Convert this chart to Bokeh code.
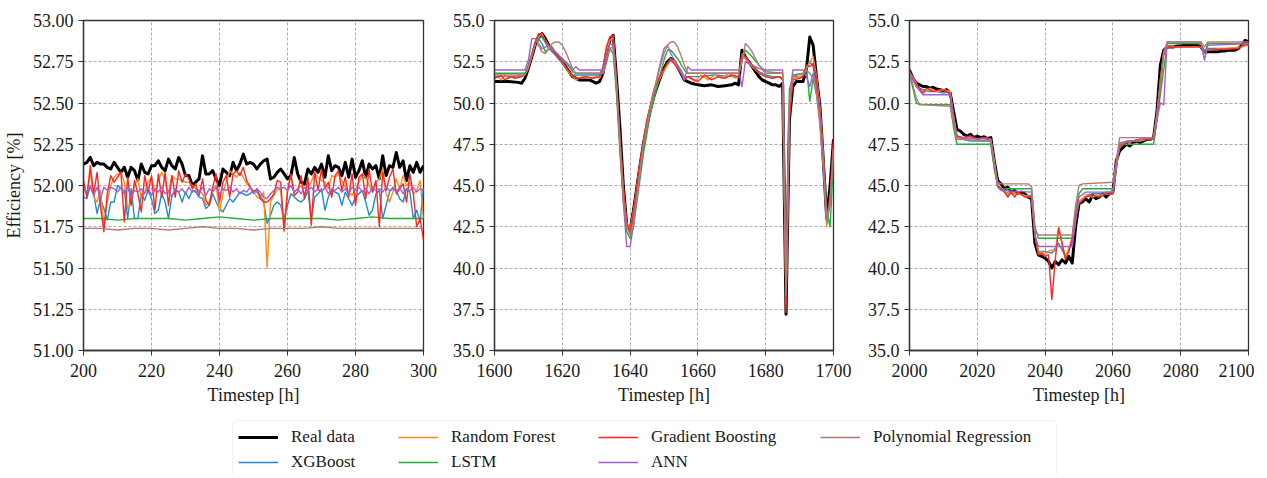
from bokeh.plotting import figure
from bokeh.models import Range1d, Legend, LegendItem, BoxAnnotation, FixedTicker, NumeralTickFormatter
from bokeh.layouts import row, column
from bokeh.embed import file_html
from bokeh.resources import INLINE

FONT = "Liberation Serif"
NAMES = ["Real data", "XGBoost", "Random Forest", "LSTM", "Gradient Boosting", "ANN", "Polynomial Regression"]
COLORS = ["#000000", "#1f8ccc", "#ff8c1a", "#1fb03a", "#ff2424", "#a35fd0", "#b57a6e"]
WIDTHS = [3.0, 1.4, 1.4, 1.4, 1.4, 1.4, 1.4]

# ---------------- Panel 1 : timesteps 200-300 ----------------
T1 = list(range(200, 301))
REAL1 = [52.13, 52.14, 52.17, 52.12, 52.14, 52.13, 52.13, 52.11, 52.10, 52.14,
         52.11, 52.08, 52.11, 52.05, 52.11, 52.09, 52.03, 52.13, 52.08, 52.07,
         52.12, 52.12, 52.15, 52.11, 52.09, 52.16, 52.12, 52.10, 52.17, 52.13,
         52.06, 52.06, 52.00, 52.02, 52.04, 52.18, 52.07, 52.07, 52.09, 52.04,
         52.00, 52.10, 52.08, 52.06, 52.14, 52.09, 52.13, 52.19, 52.13, 52.14,
         52.13, 52.10, 52.13, 52.15, 52.16, 52.04, 52.05, 52.08, 52.10, 52.07,
         52.04, 52.06, 52.17, 52.07, 52.02, 52.01, 52.10, 52.07, 52.11, 52.08,
         52.13, 52.05, 52.18, 52.09, 52.12, 52.11, 52.06, 52.14, 52.05, 52.16,
         52.05, 52.09, 52.15, 52.05, 52.13, 52.10, 52.12, 52.04, 52.18, 52.06,
         52.12, 52.11, 52.20, 52.11, 52.15, 52.03, 52.12, 52.08, 52.14, 52.08,
         52.12]
XGB1 = [51.93, 51.92, 52.00, 51.95, 51.83, 51.92, 51.86, 51.79, 51.90, 51.90,
        52.00, 51.98, 51.97, 51.80, 51.98, 51.80, 51.80, 51.95, 51.91, 51.97,
        51.92, 51.83, 51.85, 51.95, 51.90, 51.80, 51.94, 51.97, 51.96, 51.90,
        51.96, 51.92, 51.97, 51.96, 51.93, 51.92, 51.86, 51.88, 51.95, 51.90,
        51.86, 51.84, 51.88, 51.92, 51.90, 51.93, 51.96, 51.95, 51.94, 51.95,
        51.97, 51.96, 51.94, 51.90, 51.77, 51.82, 51.88, 51.90, 51.88, 51.80,
        51.88, 51.95, 51.93, 51.91, 51.90, 51.92, 51.97, 51.80, 51.93, 51.95,
        51.98, 51.85, 51.93, 51.97, 51.96, 51.95, 51.88, 51.96, 51.92, 51.88,
        51.93, 51.95, 51.97, 51.90, 51.82, 51.85, 51.95, 51.97, 51.80, 51.88,
        51.96, 51.99, 51.97, 51.92, 51.90, 51.98, 51.96, 51.80, 51.85, 51.78,
        51.99]
RF1 = [51.98, 51.95, 52.08, 51.93, 51.90, 51.97, 51.76, 51.90, 52.00, 52.05,
       52.07, 52.08, 52.02, 51.86, 51.90, 52.00, 52.04, 51.93, 51.96, 52.02,
       52.05, 51.96, 52.03, 52.08, 52.03, 51.95, 52.06, 52.04, 52.04, 52.03,
       52.02, 52.02, 52.00, 51.98, 51.97, 51.95, 51.88, 51.90, 51.98, 52.00,
       51.84, 51.95, 52.02, 52.09, 52.07, 52.05, 52.08, 52.05, 52.01, 51.99,
       51.97, 51.93, 51.92, 51.96, 51.50, 51.90, 51.94, 51.98, 51.97, 51.72,
       51.98, 52.06, 51.96, 51.98, 52.00, 51.95, 51.99, 52.02, 52.08, 52.05,
       52.03, 52.02, 51.98, 52.06, 52.05, 52.07, 52.03, 51.99, 51.96, 51.94,
       51.98, 52.02, 52.07, 52.05, 52.00, 51.96, 52.02, 52.04, 52.10, 51.95,
       51.90, 51.96, 52.04, 51.98, 52.06, 52.00, 52.02, 51.95, 51.97, 52.03,
       51.80]
GB1 = [52.03, 51.93, 52.12, 51.95, 52.08, 51.87, 51.72, 51.95, 52.06, 52.02,
       52.05, 52.08, 51.78, 52.05, 51.88, 52.03, 51.95, 51.84, 52.06, 51.96,
       52.06, 51.85, 52.07, 51.93, 52.08, 51.88, 52.06, 51.93, 52.09, 52.02,
       52.07, 52.04, 51.98, 52.01, 51.94, 52.04, 51.91, 51.88, 51.99, 52.07,
       51.90, 52.02, 52.06, 51.93, 52.07, 52.09, 52.06, 52.11, 52.03, 51.99,
       51.96, 51.98, 51.92, 51.90, 51.90, 51.92, 51.95, 52.03, 52.02, 51.73,
       51.96, 52.07, 51.94, 51.96, 52.06, 51.92, 52.05, 51.76, 52.08, 51.97,
       52.10, 51.98, 52.02, 51.93, 52.06, 52.09, 51.97, 52.05, 51.93, 52.07,
       51.88, 52.05, 52.07, 51.92, 52.10, 51.96, 52.03, 51.75, 52.08, 51.97,
       52.05, 52.10, 51.95, 51.98, 52.01, 51.90, 52.07, 51.95, 51.75, 51.80,
       51.67]
ANN1 = [51.98, 51.96, 51.99, 51.94, 51.99, 51.92, 51.99, 51.97, 51.99, 51.98,
        51.96, 51.99, 51.95, 51.99, 51.93, 51.97, 51.96, 51.98, 51.95, 51.99,
        51.94, 51.98, 51.96, 51.99, 51.95, 51.97, 51.93, 51.98, 51.96, 51.98,
        51.95, 51.99, 51.96, 51.97, 51.95, 51.99, 51.94, 51.98, 51.96, 51.99,
        51.95, 51.98, 51.97, 51.99, 51.96, 51.98, 51.95, 51.97, 51.96, 51.99,
        51.95, 51.98, 51.96, 51.93, 51.92, 51.95, 51.97, 51.99, 51.98, 51.99,
        51.97, 52.00, 51.96, 51.98, 51.95, 51.99, 51.97, 51.99, 51.96, 51.98,
        51.96, 51.99, 51.95, 51.98, 51.97, 51.99, 51.96, 51.98, 51.95, 51.99,
        51.97, 51.99, 51.96, 51.98, 51.95, 51.99, 51.97, 51.98, 51.96, 51.99,
        51.97, 51.98, 51.96, 51.99, 51.95, 51.98, 51.97, 51.99, 51.96, 51.98,
        51.97]
T1_SMOOTH = list(range(200, 301, 5))
LSTM1 = [51.80, 51.80, 51.79, 51.80, 51.80, 51.80, 51.79, 51.80, 51.81, 51.80, 51.79,
         51.80, 51.80, 51.80, 51.80, 51.79, 51.80, 51.81, 51.80, 51.80, 51.80]
POLY1 = [51.74, 51.74, 51.73, 51.74, 51.74, 51.73, 51.74, 51.75, 51.74, 51.74, 51.73,
         51.74, 51.74, 51.74, 51.75, 51.74, 51.74, 51.74, 51.74, 51.74, 51.74]

# ---------------- Panel 2 : timesteps 1600-1700 ----------------
REAL2_T = [1600, 1604, 1607, 1608, 1609, 1610, 1611, 1612, 1613, 1614, 1615, 1616, 1618, 1620, 1622, 1623,
           1625, 1628, 1630, 1631, 1632, 1633, 1634, 1635, 1636, 1637, 1638, 1639, 1640, 1641, 1642, 1643,
           1644, 1645, 1646, 1647, 1648, 1649, 1650, 1651, 1652, 1653, 1654, 1655, 1656, 1657, 1658, 1660,
           1662, 1664, 1666, 1668, 1670, 1671, 1672, 1673, 1674, 1675, 1676, 1677, 1678, 1679, 1680, 1681,
           1682, 1683, 1684, 1685, 1686, 1687, 1688, 1689, 1690, 1691, 1692, 1693, 1694, 1695, 1696, 1697,
           1698, 1699, 1700]
REAL2_V = [51.3, 51.3, 51.25, 51.2, 51.5, 52.1, 52.8, 53.5, 54.0, 54.2, 53.9, 53.5, 53.0, 52.5, 51.9, 51.6,
           51.4, 51.4, 51.2, 51.3, 51.8, 53.0, 53.8, 54.1, 51.5, 48.5, 45.0, 42.6, 42.3, 43.5, 44.9, 46.3,
           47.6, 48.7, 49.6, 50.4, 51.0, 51.6, 52.1, 52.5, 52.7, 52.5, 52.2, 51.8, 51.4, 51.3, 51.2, 51.1,
           51.05, 51.1, 51.0, 51.05, 51.1, 51.2, 51.1, 53.2, 52.8, 52.5, 52.2, 51.9, 51.6, 51.4, 51.3, 51.2,
           51.1, 51.1, 51.0, 51.2, 37.2, 49.0, 51.0, 51.3, 51.3, 51.3, 52.0, 54.0, 53.5, 51.5, 49.8, 46.5,
           43.0, 45.0, 47.8]
XGB2_T = [1600, 1604, 1608, 1609, 1610, 1611, 1612, 1613, 1614, 1616, 1618, 1620, 1622, 1623, 1626, 1631,
          1632, 1633, 1634, 1635, 1636, 1637, 1638, 1639, 1640, 1641, 1643, 1645, 1647, 1649, 1651, 1652,
          1653, 1655, 1656, 1657, 1660, 1665, 1670, 1672, 1673, 1674, 1676, 1678, 1680, 1682, 1684, 1685,
          1686, 1687, 1688, 1691, 1692, 1693, 1694, 1695, 1696, 1697, 1698, 1699, 1700]
XGB2_V = [51.6, 51.6, 51.6, 51.8, 52.2, 52.9, 53.6, 53.9, 54.0, 53.3, 52.9, 52.4, 51.9, 51.7, 51.7, 51.7,
          52.2, 53.2, 53.8, 53.9, 51.0, 47.5, 44.5, 42.6, 42.1, 43.3, 46.2, 48.8, 50.6, 51.6, 52.4, 52.7,
          52.5, 52.0, 51.6, 51.6, 51.6, 51.7, 51.6, 51.6, 52.9, 52.8, 52.3, 51.9, 51.7, 51.6, 51.6, 51.5,
          38.0, 49.5, 51.6, 51.6, 52.0, 52.5, 52.2, 51.0, 49.5, 46.5, 43.0, 43.8, 47.5]
RF2_T = [1600, 1601, 1602, 1603, 1604, 1605, 1606, 1607, 1608, 1609, 1610, 1611, 1612, 1613, 1614, 1615,
         1616, 1618, 1620, 1622, 1623, 1624, 1626, 1628, 1630, 1631, 1632, 1633, 1634, 1635, 1636, 1637,
         1638, 1639, 1640, 1641, 1643, 1645, 1647, 1649, 1651, 1652, 1653, 1655, 1656, 1657, 1659, 1661,
         1663, 1665, 1667, 1669, 1671, 1672, 1673, 1674, 1676, 1678, 1680, 1682, 1684, 1685, 1686, 1687,
         1688, 1690, 1691, 1692, 1693, 1694, 1695, 1696, 1697, 1698, 1699, 1700]
RF2_V = [51.5, 51.6, 51.4, 51.7, 51.5, 51.6, 51.5, 51.7, 51.6, 51.8, 52.2, 52.9, 53.6, 54.0, 54.2, 53.8,
         53.4, 53.0, 52.5, 51.8, 51.6, 51.4, 51.6, 51.5, 51.6, 51.5, 52.0, 53.2, 53.8, 54.0, 51.2, 47.8,
         44.8, 42.7, 42.4, 43.5, 46.4, 48.9, 50.6, 51.6, 52.3, 52.6, 52.5, 51.9, 51.5, 51.6, 51.3, 51.7,
         51.4, 51.7, 51.5, 51.8, 51.5, 51.6, 52.8, 52.7, 52.2, 51.8, 51.6, 51.5, 51.6, 51.4, 37.8, 49.3,
         51.5, 51.6, 51.7, 52.1, 52.5, 52.8, 51.6, 49.8, 46.8, 42.5, 44.0, 47.2]
GB2_T = [1600, 1602, 1603, 1605, 1606, 1608, 1609, 1610, 1611, 1612, 1613, 1614, 1616, 1618, 1620, 1622,
         1623, 1625, 1627, 1629, 1631, 1632, 1633, 1634, 1635, 1636, 1637, 1638, 1639, 1640, 1641, 1643,
         1645, 1647, 1649, 1651, 1652, 1653, 1655, 1656, 1657, 1658, 1660, 1662, 1664, 1666, 1668, 1670,
         1672, 1673, 1674, 1676, 1678, 1680, 1682, 1684, 1685, 1686, 1687, 1688, 1690, 1691, 1692, 1693,
         1694, 1695, 1696, 1697, 1698, 1699, 1700]
GB2_V = [51.5, 51.7, 51.4, 51.6, 51.5, 51.6, 51.7, 52.1, 52.9, 53.7, 54.2, 54.1, 53.5, 53.0, 52.5, 51.9,
         51.6, 51.5, 51.6, 51.5, 51.6, 52.1, 53.4, 54.0, 54.1, 51.4, 47.9, 44.9, 42.7, 42.2, 43.4, 46.5,
         49.0, 50.8, 51.7, 52.4, 52.6, 52.4, 51.8, 51.4, 51.6, 51.5, 51.3, 51.7, 51.4, 51.6, 51.5, 51.7,
         51.6, 53.0, 52.8, 52.3, 51.8, 51.6, 51.5, 51.6, 51.4, 37.3, 49.1, 51.4, 51.5, 51.6, 52.3, 52.2,
         52.4, 51.5, 49.5, 46.6, 42.8, 44.5, 47.8]
LSTM2_T = [1600, 1609, 1610, 1611, 1612, 1613, 1614, 1615, 1616, 1617, 1618, 1620, 1622, 1623, 1624, 1632,
           1633, 1634, 1635, 1636, 1637, 1638, 1639, 1640, 1641, 1642, 1644, 1646, 1648, 1650, 1651, 1652,
           1654, 1656, 1657, 1672, 1673, 1674, 1676, 1678, 1680, 1685, 1686, 1687, 1688, 1691, 1692, 1693,
           1694, 1695, 1696, 1697, 1698, 1699, 1700]
LSTM2_V = [51.8, 51.8, 52.2, 52.9, 53.6, 53.9, 53.6, 53.1, 53.3, 53.4, 53.0, 52.6, 52.2, 51.9, 51.8, 51.8,
           52.5, 53.3, 53.0, 50.5, 47.0, 44.0, 42.2, 41.8, 42.5, 44.0, 47.0, 49.4, 51.0, 52.6, 53.2, 53.2,
           52.7, 52.0, 51.8, 51.8, 52.6, 53.2, 52.8, 52.3, 51.9, 51.8, 38.2, 50.8, 51.7, 51.8, 52.2, 50.1,
           51.5, 50.5, 49.0, 46.5, 43.5, 42.5, 46.5]
ANN2_T = [1600, 1609, 1610, 1611, 1612, 1613, 1614, 1616, 1618, 1620, 1622, 1623, 1624, 1625, 1632, 1633,
          1634, 1635, 1636, 1637, 1638, 1639, 1640, 1641, 1642, 1644, 1646, 1648, 1649, 1650, 1651, 1652,
          1654, 1656, 1657, 1658, 1672, 1673, 1674, 1676, 1678, 1680, 1685, 1686, 1687, 1688, 1691, 1692,
          1693, 1694, 1695, 1696, 1697, 1698, 1699, 1700]
ANN2_V = [52.0, 52.0, 52.6, 53.9, 53.9, 53.6, 53.3, 53.5, 53.1, 52.7, 52.3, 52.0, 52.2, 52.0, 52.0, 52.8,
          53.6, 53.5, 51.0, 47.5, 44.0, 41.3, 41.3, 42.6, 44.3, 47.6, 49.8, 51.6, 52.5, 53.3, 53.5, 53.0,
          52.3, 51.4, 52.2, 52.0, 52.0, 51.0, 52.5, 52.3, 52.1, 52.0, 52.0, 38.5, 50.2, 52.0, 52.0, 51.6,
          51.0, 51.8, 50.8, 49.2, 46.5, 43.0, 44.0, 47.0]
POLY2_T = [1600, 1609, 1610, 1611, 1612, 1613, 1614, 1615, 1616, 1617, 1618, 1619, 1620, 1621, 1622, 1623,
           1624, 1632, 1633, 1634, 1635, 1636, 1637, 1638, 1639, 1640, 1641, 1642, 1644, 1646, 1648, 1649,
           1650, 1651, 1652, 1653, 1654, 1655, 1656, 1657, 1672, 1673, 1674, 1675, 1676, 1677, 1678, 1679,
           1680, 1685, 1686, 1687, 1688, 1691, 1692, 1693, 1694, 1695, 1696, 1697, 1698, 1699, 1700]
POLY2_V = [51.7, 51.7, 52.1, 52.8, 53.5, 53.5, 53.1, 53.0, 53.3, 53.6, 53.7, 53.7, 53.5, 53.1, 52.6, 52.1,
           51.8, 51.8, 52.4, 53.3, 53.4, 51.0, 47.4, 44.3, 42.5, 42.0, 42.8, 44.3, 47.5, 49.7, 51.5, 52.3,
           53.0, 53.5, 53.7, 53.7, 53.4, 52.9, 52.3, 51.8, 51.8, 52.5, 53.6, 53.4, 53.1, 52.7, 52.3, 52.0,
           51.8, 51.8, 38.3, 50.0, 51.6, 51.8, 52.0, 51.8, 51.5, 50.5, 48.6, 46.0, 42.7, 44.0, 47.2]

# ---------------- Panel 3 : timesteps 2000-2100 ----------------
REAL3_T = list(range(2000, 2101))
REAL3_V = [52.0, 51.5, 51.2, 51.1, 51.0, 51.0, 50.9, 50.95, 50.85, 50.8,
           50.75, 50.8, 50.6, 49.5, 48.4, 48.3, 48.1, 48.0, 48.1, 47.9,
           48.0, 47.9, 47.95, 47.85, 47.9, 46.5, 45.3, 45.1, 44.8, 44.9,
           44.6, 44.7, 44.5, 44.6, 44.5, 44.3, 44.2, 41.5, 40.8, 40.7,
           40.6, 40.4, 40.0, 40.4, 40.2, 40.5, 40.3, 40.7, 40.3, 42.5,
           43.9, 44.0, 44.2, 44.0, 44.4, 44.2, 44.3, 44.5, 44.3, 44.5,
           44.6, 46.5, 47.1, 47.3, 47.5, 47.4, 47.6, 47.7, 47.6, 47.7,
           47.8, 47.8, 47.9, 49.5, 52.3, 53.2, 53.4, 53.4, 53.4, 53.45,
           53.45, 53.5, 53.5, 53.5, 53.5, 53.5, 53.4, 53.1, 53.1, 53.1,
           53.1, 53.1, 53.15, 53.15, 53.2, 53.2, 53.2, 53.3, 53.5, 53.8,
           53.7]
XGB3_T = [2000, 2002, 2004, 2006, 2008, 2010, 2012, 2013, 2014, 2016, 2018, 2020, 2022, 2024, 2025, 2026,
          2028, 2030, 2032, 2034, 2036, 2037, 2038, 2040, 2042, 2044, 2046, 2048, 2049, 2050, 2052, 2054,
          2056, 2058, 2060, 2061, 2062, 2064, 2066, 2068, 2070, 2072, 2073, 2074, 2075, 2076, 2080, 2086,
          2087, 2088, 2095, 2098, 2100]
XGB3_V = [51.9, 51.0, 50.8, 50.7, 50.7, 50.6, 50.7, 49.0, 48.0, 47.8, 47.7, 47.7, 47.7, 47.7, 46.3, 45.0,
          44.6, 44.5, 44.5, 44.4, 44.4, 42.0, 41.0, 41.0, 40.9, 41.5, 40.7, 41.5, 43.0, 44.0, 44.4, 44.5,
          44.5, 44.6, 44.6, 46.2, 47.4, 47.7, 47.7, 47.8, 47.8, 47.8, 49.3, 51.5, 53.0, 53.4, 53.4, 53.4,
          53.0, 53.3, 53.3, 53.4, 53.6]
RF3_T = [2000, 2002, 2003, 2004, 2006, 2008, 2010, 2012, 2013, 2014, 2016, 2018, 2020, 2022, 2024, 2025,
         2026, 2028, 2029, 2030, 2032, 2034, 2036, 2037, 2038, 2039, 2040, 2041, 2042, 2043, 2044, 2045,
         2046, 2047, 2048, 2049, 2050, 2052, 2054, 2056, 2058, 2060, 2061, 2062, 2064, 2066, 2068, 2070,
         2072, 2073, 2074, 2075, 2076, 2086, 2087, 2088, 2098, 2100]
RF3_V = [51.9, 51.2, 50.8, 50.6, 50.9, 50.7, 50.8, 50.7, 49.2, 47.9, 47.8, 47.9, 47.8, 47.9, 47.8, 46.4,
         45.0, 44.7, 44.4, 44.6, 44.5, 44.4, 44.3, 42.0, 40.9, 41.0, 40.8, 41.0, 41.1, 41.0, 42.5, 41.5,
         40.7, 41.2, 41.8, 43.2, 44.0, 44.4, 44.3, 44.4, 44.5, 44.5, 46.3, 47.5, 47.6, 47.7, 47.7, 47.8,
         47.8, 49.2, 51.3, 53.1, 53.4, 53.4, 53.2, 53.2, 53.4, 53.5]
GB3_T = [2000, 2002, 2003, 2004, 2005, 2007, 2009, 2011, 2012, 2013, 2014, 2016, 2018, 2020, 2022, 2024,
         2025, 2026, 2028, 2029, 2030, 2031, 2032, 2034, 2036, 2037, 2038, 2039, 2040, 2041, 2042, 2043,
         2044, 2045, 2046, 2047, 2048, 2049, 2050, 2052, 2054, 2056, 2058, 2060, 2061, 2062, 2064, 2068,
         2072, 2073, 2074, 2075, 2076, 2086, 2087, 2088, 2097, 2099, 2100]
GB3_V = [51.9, 51.1, 50.9, 50.6, 50.9, 50.7, 50.8, 50.7, 50.5, 49.3, 48.0, 47.9, 48.0, 47.8, 47.9, 47.8,
         46.4, 45.0, 44.6, 44.3, 44.6, 44.3, 44.6, 44.3, 44.3, 42.0, 40.8, 40.9, 40.7, 40.8, 38.1, 40.5,
         42.4, 41.5, 40.5, 41.0, 41.8, 43.3, 43.9, 44.3, 44.4, 44.3, 44.5, 44.5, 46.2, 47.3, 47.6, 47.8,
         47.8, 49.0, 51.0, 53.2, 53.4, 53.4, 53.1, 53.2, 53.3, 53.6, 53.5]
LSTM3_T = [2000, 2002, 2003, 2012, 2013, 2014, 2024, 2025, 2026, 2027, 2036, 2037, 2038, 2048, 2049, 2050,
           2051, 2060, 2061, 2062, 2072, 2074, 2076, 2086, 2087, 2088, 2100]
LSTM3_V = [51.8, 50.0, 49.9, 49.9, 48.5, 47.5, 47.5, 46.0, 45.0, 44.8, 44.8, 42.5, 41.8, 41.8, 43.5, 44.5,
           44.8, 44.8, 46.0, 47.5, 47.5, 50.5, 53.6, 53.6, 53.0, 53.6, 53.6]
ANN3_T = [2000, 2002, 2004, 2012, 2013, 2014, 2024, 2025, 2026, 2027, 2036, 2037, 2038, 2048, 2049, 2050,
          2052, 2060, 2061, 2062, 2072, 2073, 2074, 2075, 2076, 2086, 2087, 2088, 2100]
ANN3_V = [51.9, 51.0, 50.5, 50.5, 49.2, 47.9, 47.8, 46.3, 44.9, 44.7, 44.6, 42.0, 41.3, 41.3, 42.8, 44.3,
          44.6, 44.6, 46.0, 47.6, 47.9, 49.0, 50.0, 49.9, 53.7, 53.7, 52.6, 53.5, 53.6]
POLY3_T = [2000, 2002, 2003, 2012, 2013, 2014, 2024, 2025, 2026, 2027, 2035, 2036, 2037, 2038, 2048, 2049,
           2050, 2051, 2060, 2061, 2062, 2072, 2074, 2075, 2076, 2086, 2087, 2088, 2100]
POLY3_V = [51.9, 50.3, 49.9, 49.8, 48.8, 47.8, 47.7, 46.5, 45.2, 45.1, 45.1, 44.9, 42.3, 42.0, 42.0, 43.8,
           45.0, 45.1, 45.2, 46.5, 47.9, 47.9, 51.0, 53.0, 53.7, 53.7, 53.4, 53.7, 53.7]

X_TICKS_1 = [200, 220, 240, 260, 280, 300]
X_TICKS_2 = [1600, 1620, 1640, 1660, 1680, 1700]
X_TICKS_3 = [2000, 2020, 2040, 2060, 2080, 2100]
Y_TICKS_1 = [51.00, 51.25, 51.50, 51.75, 52.00, 52.25, 52.50, 52.75, 53.00]
Y_TICKS_23 = [35.0, 37.5, 40.0, 42.5, 45.0, 47.5, 50.0, 52.5, 55.0]


def style_axis(ax):
    ax.major_label_text_font = FONT
    ax.major_label_text_font_size = "18px"
    ax.major_label_text_color = "#1a1a1a"
    ax.axis_label_text_font = FONT
    ax.axis_label_text_font_size = "18px"
    ax.axis_label_text_font_style = "normal"
    ax.axis_label_text_color = "#1a1a1a"
    ax.minor_tick_line_color = None
    ax.major_tick_in = 0
    ax.major_tick_out = 5
    ax.major_tick_line_color = "#333333"
    ax.axis_line_color = "#333333"
    ax.axis_line_width = 1.3


def make_panel(series, xr, yr, xticks, yticks, yfmt, fw, left, right, ylabel=None):
    p = figure(frame_width=fw, frame_height=330, x_range=Range1d(*xr), y_range=Range1d(*yr),
               min_border_left=left, min_border_right=right, min_border_top=20, min_border_bottom=58,
               toolbar_location=None, output_backend="svg")
    for (t, v), c, w in zip(series, COLORS, WIDTHS):
        n = min(len(t), len(v))
        p.line(t[:n], v[:n], line_color=c, line_width=w, line_join="round")
    xa = p.xaxis[0]
    ya = p.yaxis[0]
    style_axis(xa)
    style_axis(ya)
    xa.ticker = FixedTicker(ticks=xticks)
    ya.ticker = FixedTicker(ticks=yticks)
    ya.formatter = NumeralTickFormatter(format=yfmt)
    xa.major_label_standoff = 8
    ya.major_label_standoff = 5
    xa.axis_label = "Timestep [h]"
    xa.axis_label_standoff = 5
    if ylabel:
        ya.axis_label = ylabel
        ya.axis_label_standoff = 6
    p.outline_line_color = "#333333"
    p.outline_line_width = 1.3
    p.outline_line_alpha = 1.0
    p.grid.grid_line_color = "#aaaaaa"
    p.grid.grid_line_dash = "3 2"
    p.grid.grid_line_width = 1
    return p


s1 = [(T1, REAL1), (T1, XGB1), (T1, RF1), (T1_SMOOTH, LSTM1), (T1, GB1), (T1, ANN1), (T1_SMOOTH, POLY1)]
s2 = [(REAL2_T, REAL2_V), (XGB2_T, XGB2_V), (RF2_T, RF2_V), (LSTM2_T, LSTM2_V), (GB2_T, GB2_V),
      (ANN2_T, ANN2_V), (POLY2_T, POLY2_V)]
s3 = [(REAL3_T, REAL3_V), (XGB3_T, XGB3_V), (RF3_T, RF3_V), (LSTM3_T, LSTM3_V), (GB3_T, GB3_V),
      (ANN3_T, ANN3_V), (POLY3_T, POLY3_V)]

p1 = make_panel(s1, (200, 300), (51.0, 53.0), X_TICKS_1, Y_TICKS_1, "0.00", 340, 80, 18, "Efficiency [%]")
p2 = make_panel(s2, (1600, 1700), (35.0, 55.0), X_TICKS_2, Y_TICKS_23, "0.0", 339, 53, 18)
p3 = make_panel(s3, (2000, 2100), (35.0, 55.0), X_TICKS_3, Y_TICKS_23, "0.0", 339, 58, 6)

# ---------------- Legend strip ----------------
LW, LH = 1251, 66
lf = figure(width=LW, height=LH, x_range=Range1d(0, LW), y_range=Range1d(0, LH),
            x_axis_type=None, y_axis_type=None, min_border=0, toolbar_location=None,
            output_backend="svg")
lf.outline_line_color = None
lf.grid.visible = False
lf.add_layout(BoxAnnotation(left=232, right=1056, bottom=-6, top=54, fill_color="white", fill_alpha=1,
                            line_color="#cfcfcf", line_width=1.2, border_radius=4))
# dummy (off-screen) renderers that only feed the legend swatches
rends = [lf.line(x=[-50, -40], y=[-50, -50], line_color=c, line_width=w) for c, w in zip(COLORS, WIDTHS)]
col_groups = [[0, 1], [2, 3], [4, 5], [6]]
col_x = [238, 398, 598, 820]
for grp, cx in zip(col_groups, col_x):
    y0 = 2 if len(grp) == 2 else 27
    leg = Legend(items=[LegendItem(label=NAMES[i], renderers=[rends[i]]) for i in grp],
                 location=(cx, y0), orientation="vertical", glyph_width=40, glyph_height=20,
                 label_height=20, label_standoff=13, spacing=5, padding=0, margin=0,
                 border_line_alpha=0, background_fill_alpha=0, label_text_font=FONT,
                 label_text_font_size="17px", label_text_color="#1a1a1a")
    lf.add_layout(leg)

layout = column(row(p1, p2, p3), lf)
open("out.html", "w").write(file_html(layout, INLINE))
